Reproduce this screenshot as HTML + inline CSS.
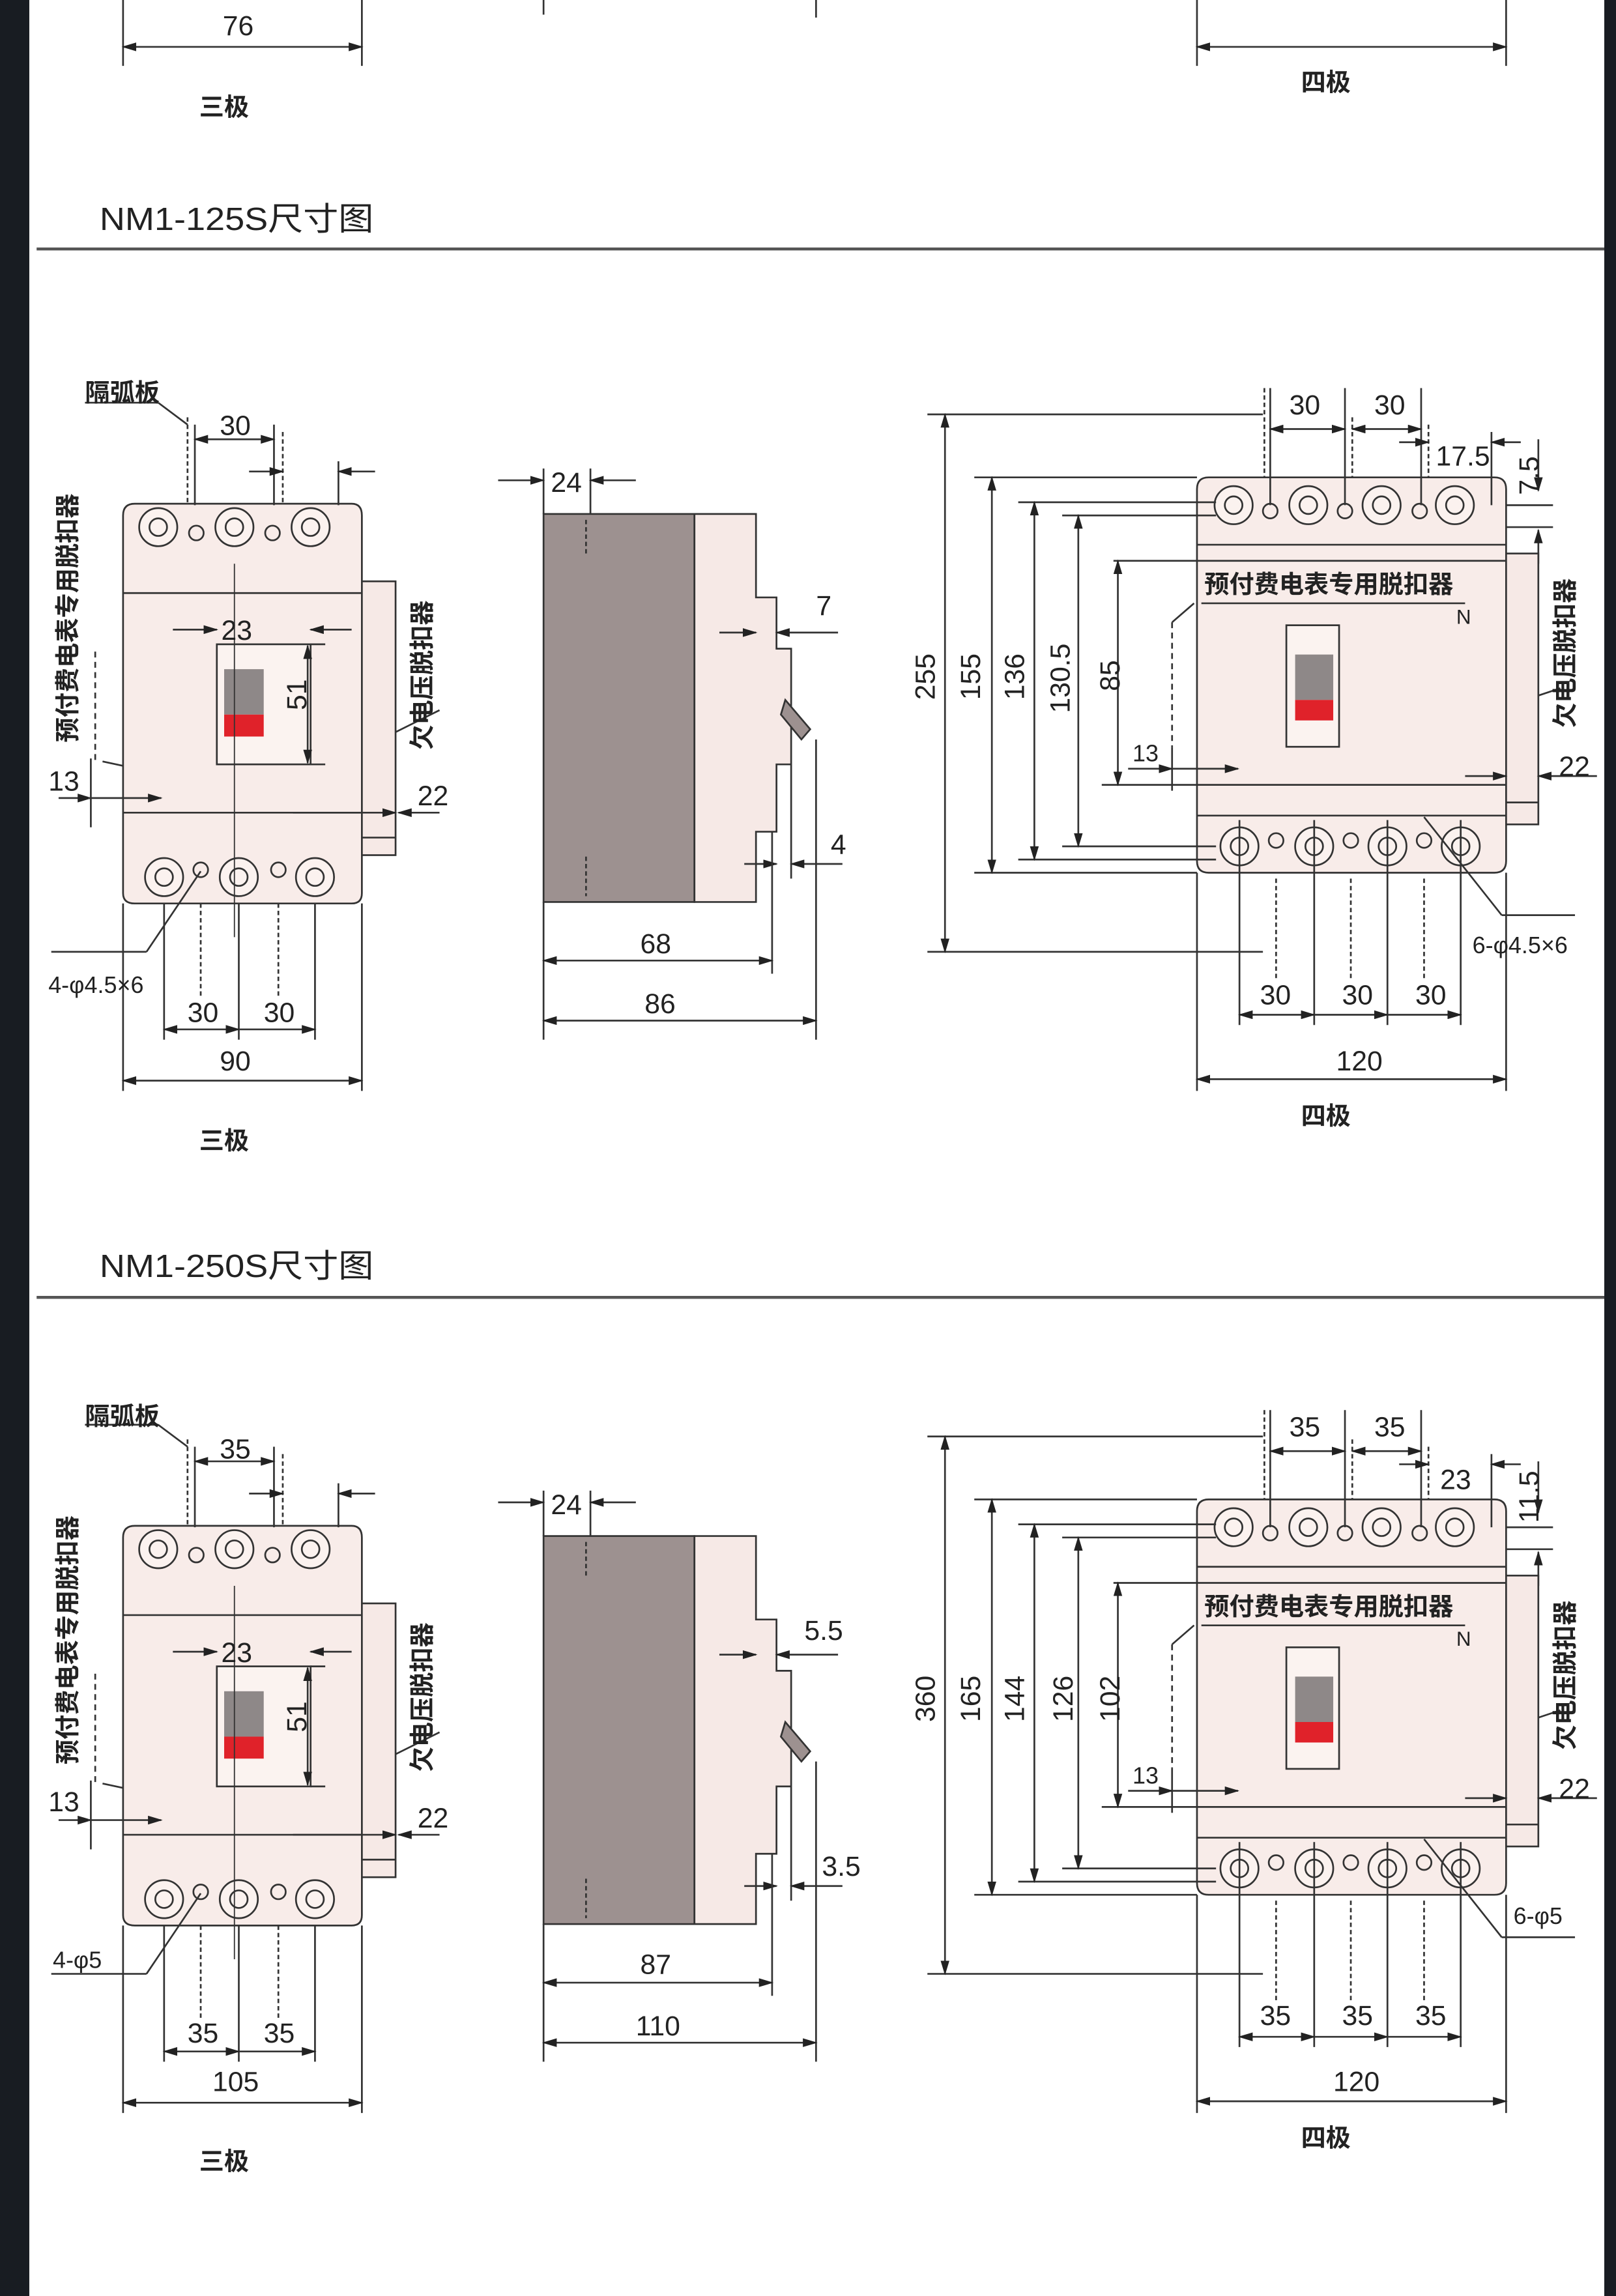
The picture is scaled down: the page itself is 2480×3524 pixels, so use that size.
<!DOCTYPE html>
<html><head><meta charset="utf-8"><style>
html,body{margin:0;padding:0;background:#fff;}
svg{display:block;}
text{font-family:"Liberation Sans","Noto Sans CJK SC",sans-serif;fill:#222;}
.d{font-size:19px;}
.c{font-size:17px;font-weight:bold;}
</style></head><body>
<svg width="2480" height="3524" viewBox="0 0 1103 1568" preserveAspectRatio="none" xmlns="http://www.w3.org/2000/svg">
<defs>
<marker id="a" markerWidth="10" markerHeight="6" refX="9" refY="3" orient="auto-start-reverse" markerUnits="userSpaceOnUse"><path d="M0,0 L10,3 L0,6z" fill="#222"/></marker>
<g id="sec" stroke="#333" stroke-width="1.2" fill="none">
 <path d="M84,352 Q84,344 92,344 L240,344 Q247,344 247,352 L247,610 Q247,617 240,617 L92,617 Q84,617 84,610Z" fill="#f8ece9"/>
 <line x1="84" y1="405" x2="247" y2="405"/><line x1="84" y1="555" x2="247" y2="555"/>
 <rect x="247" y="397" width="23" height="187" fill="#f6e9e6"/><line x1="247" y1="572" x2="270" y2="572"/>
 <g fill="#fbf2ef"><circle cx="108" cy="360" r="13"/><circle cx="160" cy="360" r="13"/><circle cx="212" cy="360" r="13"/>
 <circle cx="112" cy="599" r="13"/><circle cx="163" cy="599" r="13"/><circle cx="215" cy="599" r="13"/></g>
 <circle cx="108" cy="360" r="6"/><circle cx="160" cy="360" r="6"/><circle cx="212" cy="360" r="6"/>
 <circle cx="112" cy="599" r="6"/><circle cx="163" cy="599" r="6"/><circle cx="215" cy="599" r="6"/>
 <circle cx="134" cy="364" r="5"/><circle cx="186" cy="364" r="5"/><circle cx="137" cy="594" r="5"/><circle cx="190" cy="594" r="5"/>
 <rect x="148" y="440" width="64" height="82" fill="#fbf3f0"/>
 <rect x="153" y="457" width="27" height="31" fill="#8e8888" stroke="none"/><rect x="153" y="488" width="27" height="15" fill="#e0222a" stroke="none"/>
 <line x1="160" y1="385" x2="160" y2="640" stroke-width="0.8"/>
 <line x1="128" y1="285" x2="128" y2="345" stroke-dasharray="3,2"/><line x1="133" y1="290" x2="133" y2="345"/><line x1="187" y1="290" x2="187" y2="345"/><line x1="193" y1="295" x2="193" y2="345" stroke-dasharray="3,2"/><line x1="231" y1="315" x2="231" y2="345"/>
 <line x1="133" y1="300" x2="187" y2="300" marker-start="url(#a)" marker-end="url(#a)"/>
 <line x1="170" y1="322" x2="193" y2="322" marker-end="url(#a)"/><line x1="256" y1="322" x2="231" y2="322" marker-end="url(#a)"/>
 <line x1="108" y1="275" x2="128" y2="290"/><line x1="58" y1="275" x2="108" y2="275"/>
 <line x1="118" y1="430" x2="148" y2="430" marker-end="url(#a)"/><line x1="240" y1="430" x2="212" y2="430" marker-end="url(#a)"/><line x1="212" y1="440" x2="222" y2="440"/><line x1="212" y1="522" x2="222" y2="522"/>
 <line x1="210" y1="441" x2="210" y2="521" marker-start="url(#a)" marker-end="url(#a)"/>
 <line x1="65" y1="445" x2="65" y2="520" stroke-dasharray="4,3"/><line x1="70" y1="520" x2="84" y2="523"/>
 <line x1="62" y1="518" x2="62" y2="565"/><line x1="40" y1="545" x2="62" y2="545" marker-end="url(#a)"/><line x1="60" y1="545" x2="110" y2="545" marker-end="url(#a)"/>
 <line x1="200" y1="555" x2="270" y2="555" marker-end="url(#a)"/><line x1="300" y1="555" x2="272" y2="555" marker-end="url(#a)"/>
 <line x1="270" y1="500" x2="300" y2="485"/>
 <line x1="84" y1="617" x2="84" y2="745"/><line x1="247" y1="617" x2="247" y2="745"/>
 <line x1="112" y1="617" x2="112" y2="710"/><line x1="163" y1="617" x2="163" y2="710"/><line x1="215" y1="617" x2="215" y2="710"/>
 <line x1="137" y1="617" x2="137" y2="680" stroke-dasharray="3,2"/><line x1="190" y1="617" x2="190" y2="680" stroke-dasharray="3,2"/>
 <line x1="112" y1="703" x2="163" y2="703" marker-start="url(#a)" marker-end="url(#a)"/><line x1="163" y1="703" x2="215" y2="703" marker-end="url(#a)"/>
 <line x1="84" y1="738" x2="247" y2="738" marker-start="url(#a)" marker-end="url(#a)"/>
 <line x1="137" y1="595" x2="100" y2="650"/><line x1="35" y1="650" x2="100" y2="650"/>
 <rect x="371" y="351" width="103" height="265" fill="#9d9190"/>
 <path d="M474,351 L516,351 L516,408 L530,408 L530,443 L540,443 L540,522 L530,522 L530,568 L516,568 L516,616 L474,616Z" fill="#f6e9e6"/>
 <path d="M536,478 L553,498 L547,505 L533,488Z" fill="#9d9190"/>
 <line x1="371" y1="320" x2="371" y2="351"/><line x1="403" y1="320" x2="403" y2="351"/>
 <line x1="340" y1="328" x2="371" y2="328" marker-end="url(#a)"/><line x1="434" y1="328" x2="403" y2="328" marker-end="url(#a)"/>
 <line x1="400" y1="355" x2="400" y2="380" stroke-dasharray="3,2"/><line x1="400" y1="585" x2="400" y2="612" stroke-dasharray="3,2"/>
 <line x1="491" y1="432" x2="516" y2="432" marker-end="url(#a)"/><line x1="572" y1="432" x2="530" y2="432" marker-end="url(#a)"/>
 <line x1="508" y1="590" x2="530" y2="590" marker-end="url(#a)"/><line x1="575" y1="590" x2="540" y2="590" marker-end="url(#a)"/><line x1="540" y1="522" x2="540" y2="600"/>
 <line x1="371" y1="616" x2="371" y2="710"/><line x1="527" y1="568" x2="527" y2="665"/><line x1="557" y1="505" x2="557" y2="710"/>
 <line x1="371" y1="656" x2="527" y2="656" marker-start="url(#a)" marker-end="url(#a)"/>
 <line x1="371" y1="697" x2="557" y2="697" marker-start="url(#a)" marker-end="url(#a)"/>
 <path d="M825,326 L1020,326 Q1028,326 1028,334 L1028,588 Q1028,596 1020,596 L825,596 Q817,596 817,588 L817,334 Q817,326 825,326Z" fill="#f8ece9"/>
 <line x1="817" y1="372" x2="1028" y2="372"/><line x1="817" y1="557" x2="1028" y2="557"/>
 <rect x="1028" y="378" width="22" height="185" fill="#f6e9e6"/><line x1="1028" y1="548" x2="1050" y2="548"/>
 <g fill="#fbf2ef"><circle cx="842" cy="345" r="13"/><circle cx="893" cy="345" r="13"/><circle cx="943" cy="345" r="13"/><circle cx="993" cy="345" r="13"/>
 <circle cx="846" cy="578" r="13"/><circle cx="897" cy="578" r="13"/><circle cx="947" cy="578" r="13"/><circle cx="997" cy="578" r="13"/></g>
 <circle cx="842" cy="345" r="6"/><circle cx="893" cy="345" r="6"/><circle cx="943" cy="345" r="6"/><circle cx="993" cy="345" r="6"/>
 <circle cx="846" cy="578" r="6"/><circle cx="897" cy="578" r="6"/><circle cx="947" cy="578" r="6"/><circle cx="997" cy="578" r="6"/>
 <circle cx="867" cy="349" r="5"/><circle cx="918" cy="349" r="5"/><circle cx="969" cy="349" r="5"/><circle cx="871" cy="574" r="5"/><circle cx="922" cy="574" r="5"/><circle cx="972" cy="574" r="5"/>
 <line x1="820" y1="412" x2="1000" y2="412"/>
 <rect x="878" y="427" width="36" height="83" fill="#fbf3f0"/>
 <rect x="884" y="447" width="26" height="31" fill="#8e8888" stroke="none"/><rect x="884" y="478" width="26" height="14" fill="#e0222a" stroke="none"/>
 <line x1="800" y1="425" x2="800" y2="510" stroke-dasharray="4,3"/><line x1="800" y1="425" x2="815" y2="412"/>
 <line x1="863" y1="265" x2="863" y2="326" stroke-dasharray="3,2"/><line x1="867" y1="265" x2="867" y2="345"/><line x1="918" y1="265" x2="918" y2="345"/><line x1="923" y1="285" x2="923" y2="326" stroke-dasharray="3,2"/><line x1="970" y1="265" x2="970" y2="345"/><line x1="975" y1="290" x2="975" y2="326" stroke-dasharray="3,2"/><line x1="1018" y1="295" x2="1018" y2="345"/>
 <line x1="867" y1="293" x2="918" y2="293" marker-start="url(#a)" marker-end="url(#a)"/><line x1="923" y1="293" x2="970" y2="293" marker-start="url(#a)" marker-end="url(#a)"/>
 <line x1="955" y1="302" x2="975" y2="302" marker-end="url(#a)"/><line x1="1038" y1="302" x2="1018" y2="302" marker-end="url(#a)"/>
 <line x1="1050" y1="300" x2="1050" y2="335" marker-end="url(#a)"/><line x1="1050" y1="385" x2="1050" y2="362" marker-end="url(#a)"/>
 <line x1="1028" y1="345" x2="1060" y2="345"/><line x1="1028" y1="360" x2="1060" y2="360"/>
 <line x1="633" y1="283" x2="862" y2="283"/><line x1="633" y1="650" x2="862" y2="650"/>
 <line x1="645" y1="283" x2="645" y2="650" marker-start="url(#a)" marker-end="url(#a)"/>
 <line x1="665" y1="326" x2="817" y2="326"/><line x1="665" y1="596" x2="817" y2="596"/>
 <line x1="677" y1="326" x2="677" y2="596" marker-start="url(#a)" marker-end="url(#a)"/>
 <line x1="695" y1="343" x2="830" y2="343"/><line x1="695" y1="587" x2="830" y2="587"/>
 <line x1="706" y1="343" x2="706" y2="587" marker-start="url(#a)" marker-end="url(#a)"/>
 <line x1="725" y1="352" x2="830" y2="352"/><line x1="725" y1="578" x2="830" y2="578"/>
 <line x1="736" y1="352" x2="736" y2="578" marker-start="url(#a)" marker-end="url(#a)"/>
 <line x1="760" y1="383" x2="1028" y2="383"/><line x1="752" y1="536" x2="1028" y2="536"/>
 <line x1="763" y1="383" x2="763" y2="536" marker-start="url(#a)" marker-end="url(#a)"/>
 <line x1="800" y1="510" x2="800" y2="540"/><line x1="770" y1="525" x2="800" y2="525" marker-end="url(#a)"/><line x1="800" y1="525" x2="845" y2="525" marker-end="url(#a)"/>
 <line x1="1000" y1="530" x2="1028" y2="530" marker-end="url(#a)"/><line x1="1090" y1="530" x2="1050" y2="530" marker-end="url(#a)"/>
 <line x1="1050" y1="475" x2="1065" y2="470"/>
 <line x1="817" y1="596" x2="817" y2="745"/><line x1="1028" y1="596" x2="1028" y2="745"/>
 <line x1="846" y1="560" x2="846" y2="700"/><line x1="897" y1="560" x2="897" y2="700"/><line x1="947" y1="560" x2="947" y2="700"/><line x1="997" y1="560" x2="997" y2="700"/>
 <line x1="871" y1="600" x2="871" y2="670" stroke-dasharray="3,2"/><line x1="922" y1="600" x2="922" y2="670" stroke-dasharray="3,2"/><line x1="972" y1="600" x2="972" y2="670" stroke-dasharray="3,2"/>
 <line x1="846" y1="693" x2="897" y2="693" marker-start="url(#a)" marker-end="url(#a)"/><line x1="897" y1="693" x2="947" y2="693" marker-end="url(#a)"/><line x1="947" y1="693" x2="997" y2="693" marker-end="url(#a)"/>
 <line x1="817" y1="737" x2="1028" y2="737" marker-start="url(#a)" marker-end="url(#a)"/>
 <line x1="972" y1="558" x2="1025" y2="625"/><line x1="1025" y1="625" x2="1075" y2="625"/>
</g>
</defs>

<rect x="0" y="0" width="20" height="1568" fill="#181c22"/>
<rect x="1095" y="0" width="8" height="1568" fill="#181c22"/>

<g stroke="#333" stroke-width="1.2">
<line x1="84" y1="0" x2="84" y2="45"/><line x1="247" y1="0" x2="247" y2="45"/>
<line x1="84" y1="32" x2="247" y2="32" marker-start="url(#a)" marker-end="url(#a)"/>
<line x1="817" y1="0" x2="817" y2="45"/><line x1="1028" y1="0" x2="1028" y2="45"/>
<line x1="817" y1="32" x2="1028" y2="32" marker-start="url(#a)" marker-end="url(#a)"/>
<line x1="371" y1="0" x2="371" y2="10"/><line x1="557" y1="0" x2="557" y2="12"/>
<line x1="25" y1="170" x2="1095" y2="170" stroke="#555" stroke-width="2"/>
<line x1="25" y1="886" x2="1095" y2="886" stroke="#555" stroke-width="2"/>
</g>
<text x="152" y="24" class="d">76</text>
<text x="136" y="79" class="c">三极</text>
<text x="888" y="62" class="c">四极</text>
<text x="68" y="157" style="font-size:22px" textLength="187" lengthAdjust="spacingAndGlyphs">NM1-125S尺寸图</text>
<text x="68" y="872" style="font-size:22px" textLength="187" lengthAdjust="spacingAndGlyphs">NM1-250S尺寸图</text>

<use href="#sec"/>
<use href="#sec" transform="translate(0,698)"/>

<text x="58" y="274" class="c">隔弧板</text>
<text x="150" y="297" class="d">30</text>
<text class="c" transform="translate(52,507) rotate(-90)">预付费电表专用脱扣器</text>
<text class="c" transform="translate(294,512) rotate(-90)">欠电压脱扣器</text>
<text x="151" y="437" class="d">23</text>
<text class="d" transform="translate(209,485) rotate(-90)">51</text>
<text x="33" y="540" class="d">13</text>
<text x="285" y="550" class="d">22</text>
<text x="33" y="678" class="d" style="font-size:16px">4-φ4.5×6</text>
<text x="128" y="698" class="d">30</text>
<text x="180" y="698" class="d">30</text>
<text x="150" y="731" class="d">90</text>
<text x="136" y="785" class="c">三极</text>
<text x="376" y="336" class="d">24</text>
<text x="557" y="420" class="d">7</text>
<text x="567" y="583" class="d">4</text>
<text x="437" y="651" class="d">68</text>
<text x="440" y="692" class="d">86</text>
<text x="880" y="283" class="d">30</text>
<text x="938" y="283" class="d">30</text>
<text x="980" y="318" class="d">17.5</text>
<text class="d" transform="translate(1050,338) rotate(-90)">7.5</text>
<text class="d" transform="translate(638,478) rotate(-90)">255</text>
<text class="d" transform="translate(669,478) rotate(-90)">155</text>
<text class="d" transform="translate(699,478) rotate(-90)">136</text>
<text class="d" transform="translate(730,487) rotate(-90)">130.5</text>
<text class="d" transform="translate(764,472) rotate(-90)">85</text>
<text x="822" y="405" class="c">预付费电表专用脱扣器</text>
<text x="994" y="426" style="font-size:14px">N</text>
<text class="c" transform="translate(1074,497) rotate(-90)">欠电压脱扣器</text>
<text x="773" y="520" class="d" style="font-size:16px">13</text>
<text x="1064" y="530" class="d">22</text>
<text x="1005" y="651" class="d" style="font-size:16px">6-φ4.5×6</text>
<text x="860" y="686" class="d">30</text>
<text x="916" y="686" class="d">30</text>
<text x="966" y="686" class="d">30</text>
<text x="912" y="731" class="d">120</text>
<text x="888" y="768" class="c">四极</text>

<text x="58" y="973" class="c">隔弧板</text>
<text x="150" y="996" class="d">35</text>
<text class="c" transform="translate(52,1205) rotate(-90)">预付费电表专用脱扣器</text>
<text class="c" transform="translate(294,1210) rotate(-90)">欠电压脱扣器</text>
<text x="151" y="1135" class="d">23</text>
<text class="d" transform="translate(209,1183) rotate(-90)">51</text>
<text x="33" y="1237" class="d">13</text>
<text x="285" y="1248" class="d">22</text>
<text x="36" y="1344" class="d" style="font-size:16px">4-φ5</text>
<text x="128" y="1395" class="d">35</text>
<text x="180" y="1395" class="d">35</text>
<text x="145" y="1428" class="d">105</text>
<text x="136" y="1482" class="c">三极</text>
<text x="376" y="1034" class="d">24</text>
<text x="549" y="1120" class="d">5.5</text>
<text x="561" y="1281" class="d">3.5</text>
<text x="437" y="1348" class="d">87</text>
<text x="434" y="1390" class="d">110</text>
<text x="880" y="981" class="d">35</text>
<text x="938" y="981" class="d">35</text>
<text x="983" y="1017" class="d">23</text>
<text class="d" transform="translate(1050,1040) rotate(-90)">11.5</text>
<text class="d" transform="translate(638,1176) rotate(-90)">360</text>
<text class="d" transform="translate(669,1176) rotate(-90)">165</text>
<text class="d" transform="translate(699,1176) rotate(-90)">144</text>
<text class="d" transform="translate(732,1176) rotate(-90)">126</text>
<text class="d" transform="translate(764,1176) rotate(-90)">102</text>
<text x="822" y="1103" class="c">预付费电表专用脱扣器</text>
<text x="994" y="1124" style="font-size:14px">N</text>
<text class="c" transform="translate(1074,1195) rotate(-90)">欠电压脱扣器</text>
<text x="773" y="1218" class="d" style="font-size:16px">13</text>
<text x="1064" y="1228" class="d">22</text>
<text x="1033" y="1314" class="d" style="font-size:16px">6-φ5</text>
<text x="860" y="1383" class="d">35</text>
<text x="916" y="1383" class="d">35</text>
<text x="966" y="1383" class="d">35</text>
<text x="910" y="1428" class="d">120</text>
<text x="888" y="1466" class="c">四极</text>
</svg>
</body></html>
